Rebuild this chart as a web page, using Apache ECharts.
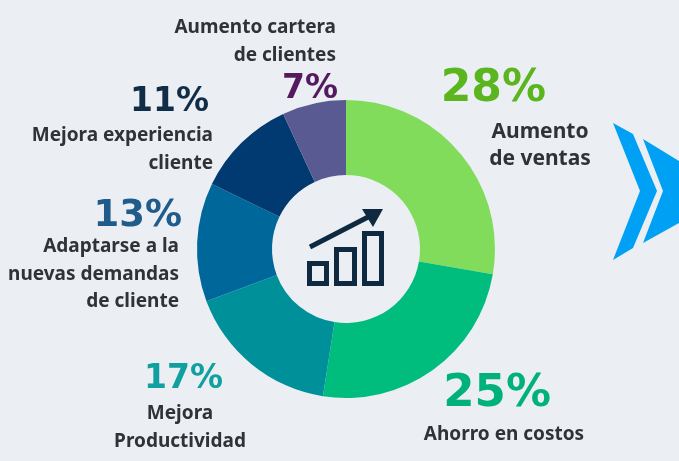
<!DOCTYPE html>
<html><head><meta charset="utf-8">
<style>html,body{margin:0;padding:0;background:#ebeff3}#c{width:679px;height:461px}</style>
<script src="https://cdn.jsdelivr.net/npm/echarts@6/dist/echarts.min.js"></script>
</head><body><div id="c"></div>
<script>
const categories = ["Aumento\nde ventas","Ahorro en costos","Mejora\nProductividad","Adaptarse a la\nnuevas demandas\nde cliente","Mejora experiencia\ncliente","Aumento cartera\nde clientes"];
const values = [28,25,17,13,11,7];
const sliceColors = ["#82dc5c","#00bd7e","#00909a","#00679a","#003a70","#5a5a92"];
const pctColors = ["#5ab51e","#00b17a","#0fa09f","#1f5c8c","#0f2d47","#54195f"];
const pctSizes = [44,45,33,37,33,33];
const pctPos = [[546,90],[551,394],[223,379],[182,216],[209,102],[338,89]];
const labelPos = [[540,118],[504,421],[180,400],[179,233],[213,122],[336,14]];
const labelSizes = [21,19,19,19,19,19];
const labelAlign = ["center","center","center","right","right","right"];
const dark = "#0f2a40";
const font = "'Noto Sans', sans-serif";
const graphic = [];
values.forEach((v,i)=>{
  graphic.push({type:'text',x:pctPos[i][0],y:pctPos[i][1],style:{text:v+'%',fill:pctColors[i],font:`bold ${pctSizes[i]}px 'DejaVu Sans', sans-serif`,textAlign:'right',textVerticalAlign:'middle'}});
  graphic.push({type:'text',x:labelPos[i][0],y:labelPos[i][1],style:{text:categories[i],fill:'#2f3237',font:`bold ${labelSizes[i]}px ${font}`,lineHeight:27.5,textAlign:labelAlign[i],textVerticalAlign:'top'}});
});
[[[613,123],[633,134],[657,191],[633,248],[613,260],[640,191]],[[643,139],[679,161],[679,223],[643,243],[663,191]]].forEach(p=>{
  graphic.push({type:'polygon',shape:{points:p},style:{fill:'#00a0f5'}});
});
[[309.5,263.5,17,20],[336.5,249.5,18,34],[364.5,233.5,17,50]].forEach(r=>{
  graphic.push({type:'rect',shape:{x:r[0],y:r[1],width:r[2],height:r[3]},style:{fill:'none',stroke:dark,lineWidth:5}});
});
graphic.push({type:'line',shape:{x1:310,y1:247,x2:372,y2:215},style:{stroke:dark,lineWidth:5}});
graphic.push({type:'polygon',shape:{points:[[362,209],[383,209],[373,227]]},style:{fill:dark}});
const chart = echarts.init(document.getElementById('c'),null,{renderer:'canvas'});
chart.setOption({
  backgroundColor:'#ebeff3',animation:false,
  series:[{type:'pie',center:[346,249],radius:[74,149],startAngle:90,label:{show:false},labelLine:{show:false},silent:true,
    data:values.map((v,i)=>({value:v,name:categories[i],itemStyle:{color:sliceColors[i]}}))}],
  graphic:{elements:graphic}
});
</script></body></html>
